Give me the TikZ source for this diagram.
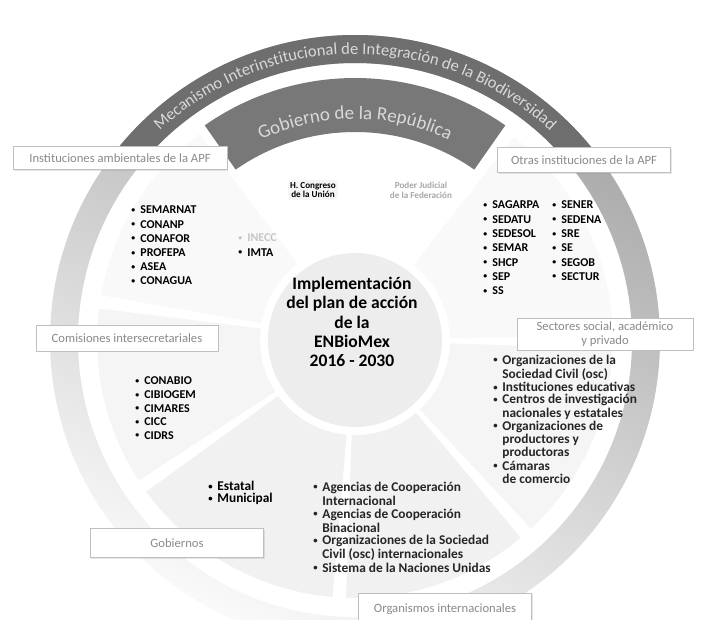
\documentclass[tikz,border=0pt]{standalone}
\usepackage{fontspec}
\setmainfont{Carlito}
\usetikzlibrary{decorations.text, shadows}
\definecolor{xdark}{HTML}{6E6E6E}
\definecolor{xgob}{HTML}{787878}
\definecolor{xlight}{HTML}{D9D9D9}
\definecolor{xlabel}{HTML}{8A8A8A}
\tikzset{
	catbox/.style={draw=gray!50, fill=white, line width=0.5pt, text=xlabel, align=center,
		font=\fontsize{9}{10}\selectfont, inner sep=2pt,
		drop shadow={shadow xshift=0.8pt, shadow yshift=-0.8pt, opacity=0.2}},
	acr/.style={anchor=west, inner sep=0pt, font=\bfseries\fontsize{8.5}{9}\selectfont},
	itm/.style={anchor=west, inner sep=0pt, text=black!85, font=\bfseries\fontsize{9.5}{10}\selectfont},
	power/.style={align=center, inner sep=1.5pt, font=\bfseries\fontsize{6.5}{7}\selectfont},
}
\newcommand{\bul}{\makebox[6.5pt][l]{\raisebox{0.12em}{\scalebox{0.65}{•}}}}

\begin{document}
\begin{tikzpicture}[x=0.025cm, y=0.025cm]
		\useasboundingbox (-355,-279) rectangle (346,340);

		% Outer ring and mechanism
		\shade[even odd rule, top color=gray!70, bottom color=gray!4, shading angle=-25] (0,0) circle (305) (0,0) circle (277);
		\fill[xdark] (142:305) arc (142:38:305) -- (38:277) arc (38:142:277) -- cycle;
		\path[decorate, decoration={text along path, text align=center,
			text={|\fontsize{11.8}{11.8}\selectfont\color{xlight}|Mecanismo Interinstitucional de Integración de la Biodiversidad}}]
			(141:286) arc (141:39:286);

		% Sectors
		\foreach \a/\b/\g in {127/170/5, 173/213/8, 216/265/11, 268/310/11, 313/358/8, 1/52/5}
			\fill[gray!\g] (\a:95) arc (\a:\b:95) -- (\b:258) arc (\b:\a:258) -- cycle;
		\fill[xgob] (55:208) arc (55:125:208) -- (125:262) arc (125:55:262) -- cycle;
		\path[decorate, decoration={text along path, text align=center,
			text={|\fontsize{13.5}{13.5}\selectfont\color{xlight}|Gobierno de la República}}]
			(124:221) arc (124:56:221);
		\fill[gray!14] (0,0) circle (87);

		% Centre
		\node[align=center, font=\bfseries\fontsize{12.5}{13.8}\selectfont] (plan) at (-3,18)
			{Implementación\\del plan de acción\\de la\\ENBioMex\\2016 - 2030};

		\node[power, fill=gray!8, rounded corners=3pt] (congreso) at (-42,150) {H. Congreso\\de la Unión};
		\node[power, text=gray!70] (judicial) at (66,150) {Poder Judicial\\de la Federación};

		% Category boxes
		\node[catbox, minimum width=5.35cm, minimum height=0.58cm] (ambientales) at (-235,182) {Instituciones ambientales de la APF};
		\node[catbox, minimum width=4.33cm, minimum height=0.62cm] (otras) at (229,180) {Otras instituciones de la APF};
		\node[catbox, minimum width=4.55cm, minimum height=0.65cm] (comisiones) at (-228,2) {Comisiones intersecretariales};
		\node[catbox, minimum width=4.4cm, minimum height=0.8cm, font=\fontsize{9}{9.5}\selectfont] (sectores) at (250,6) {Sectores social, académico\\y privado};
		\node[catbox, minimum width=4.33cm, minimum height=0.72cm] (gobiernos) at (-178,-203) {Gobiernos};
		\node[catbox, minimum width=4.33cm, minimum height=0.8cm] (organismos) at (90,-269) {Organismos internacionales};

		% Lists
		\foreach \t [count=\i] in {SEMARNAT, CONANP, CONAFOR, PROFEPA, ASEA, CONAGUA}
			\node[acr] (amb\i) at (-224, {130-(\i-1)*14.2}) {\bul\t};
		\node[acr, text=gray!45] (inecc) at (-117,102) {\bul INECC};
		\node[acr] (imta) at (-117,87.8) {\bul IMTA};

		\foreach \t [count=\i] in {SAGARPA, SEDATU, SEDESOL, SEMAR, SHCP, SEP, SS}
			\node[acr] (apfa\i) at (128, {135-(\i-1)*14.3}) {\bul\t};
		\foreach \t [count=\i] in {SENER, SEDENA, SRE, SE, SEGOB, SECTUR}
			\node[acr] (apfb\i) at (197, {135-(\i-1)*14.3}) {\bul\t};

		\foreach \t [count=\i] in {CONABIO, CIBIOGEM, CIMARES, CICC, CIDRS}
			\node[acr] (com\i) at (-220, {-41-(\i-1)*13.6}) {\bul\t};

		\foreach \t [count=\i] in {Estatal, Municipal}
			\node[itm, text=black] (gob\i) at (-147, {-146-(\i-1)*13.3}) {\bul\t};

		\foreach \b/\t [count=\i] in {1/Organizaciones de la, 0/Sociedad Civil (osc), 1/Instituciones educativas,
			1/Centros de investigación, 0/nacionales y estatales, 1/Organizaciones de, 0/productores y,
			0/productoras, 1/Cámaras, 0/de comercio}
			\node[itm] (sec\i) at (138, {-21-(\i-1)*13.1}) {\ifnum\b=1 \bul\else\hspace{6.5pt}\fi\t};

		\foreach \b/\t [count=\i] in {1/Agencias de Cooperación, 0/Internacional, 1/Agencias de Cooperación,
			0/Binacional, 1/Organizaciones de la Sociedad, 0/Civil (osc) internacionales, 1/Sistema de la Naciones Unidas}
			\node[itm] (org\i) at (-42, {-148-(\i-1)*13.3}) {\ifnum\b=1 \bul\else\hspace{6.5pt}\fi\t};
\end{tikzpicture}
\end{document}
